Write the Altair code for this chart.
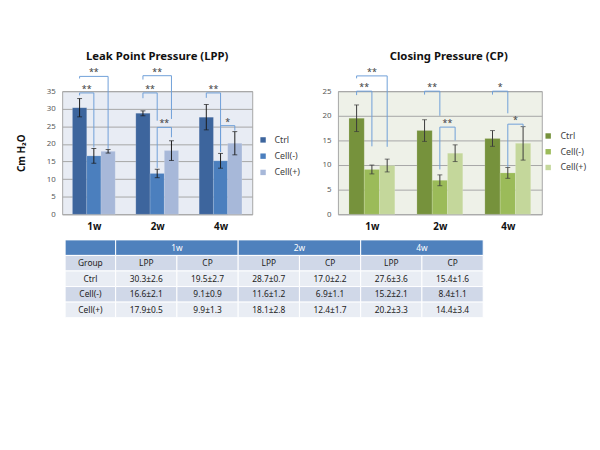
import json
import altair as alt
import pandas as pd

# ---------------- data ----------------
groups = ["1w", "2w", "4w"]
series = ["Ctrl", "Cell(-)", "Cell(+)"]

# Leak point pressure (cm H2O), mean and SD per week
lpp_ctrl_mean = [30.3, 28.7, 27.6]
lpp_ctrl_sd = [2.6, 0.7, 3.6]
lpp_neg_mean = [16.6, 11.6, 15.2]
lpp_neg_sd = [2.1, 1.2, 2.1]
lpp_pos_mean = [17.9, 18.1, 20.2]
lpp_pos_sd = [0.5, 2.8, 3.3]

# Closing pressure (cm H2O), mean and SD per week
cp_ctrl_mean = [19.5, 17.0, 15.4]
cp_ctrl_sd = [2.7, 2.2, 1.6]
cp_neg_mean = [9.1, 6.9, 8.4]
cp_neg_sd = [0.9, 1.1, 1.1]
cp_pos_mean = [9.9, 12.4, 14.4]
cp_pos_sd = [1.3, 1.7, 3.4]

# significance brackets: week index, series a, series b, bracket level,
# end of left leg, end of right leg, mark (values in cm H2O)
lpp_br_week = [0, 0, 1, 1, 1, 2, 2]
lpp_br_a = [0, 0, 0, 0, 1, 0, 1]
lpp_br_b = [1, 2, 1, 2, 2, 1, 2]
lpp_br_level = [34.5, 39.2, 34.5, 39.4, 24.7, 34.5, 25.2]
lpp_br_left = [33.8, 38.6, 33.0, 38.3, 13.2, 33.1, 17.7]
lpp_br_right = [19.0, 18.6, 26.6, 27.1, 21.9, 17.7, 23.8]
lpp_br_label = ["**", "**", "**", "**", "**", "**", "*"]

cp_br_week = [0, 0, 1, 1, 2, 2]
cp_br_a = [0, 0, 0, 1, 0, 1]
cp_br_b = [1, 2, 1, 2, 1, 2]
cp_br_level = [25.0, 28.1, 25.0, 17.7, 25.0, 18.3]
cp_br_left = [24.2, 27.6, 24.3, 9.1, 24.3, 9.6]
cp_br_right = [13.8, 13.7, 20.0, 15.0, 20.5, 17.8]
cp_br_label = ["**", "**", "**", "**", "*", "*"]

lpp_title = "Leak Point Pressure (LPP)"
cp_title = "Closing Pressure (CP)"
y_title = "Cm H\u2082O"
table_group_label = "Group"
measure_labels = ["LPP", "CP"]

# ---------------- styling / layout ----------------
FONT = "Noto Sans"
BAR_W = 0.225          # bar width as a fraction of a week band
PLOT_H = 125
LPP_W = 193
CP_W = 207
BRACKET_COLOR = "#6f9fd8"
LPP_COLORS = ["#3d659d", "#4b7fbe", "#a7b8d9"]
CP_COLORS = ["#76923c", "#9bbb59", "#c4d79b"]
LPP_BG = "#e8ecf4"
CP_BG = "#eef1e8"
GRID = "#a6a6a6"


def bar_frame(means, sds):
    rows = []
    for si, s in enumerate(series):
        for wi, w in enumerate(groups):
            c = wi + 0.5 + (si - 1) * BAR_W
            m, sd = means[si][wi], sds[si][wi]
            rows.append(dict(series=s, week=w, x0=c - BAR_W / 2, x1=c + BAR_W / 2,
                             xc=c, mean=m, lo=m - sd, hi=m + sd))
    return pd.DataFrame(rows)


def bracket_frames(week, a, b, level, left, right, labels):
    pts, labs = [], []
    for k in range(len(week)):
        xa = week[k] + 0.5 + (a[k] - 1) * BAR_W
        xb = week[k] + 0.5 + (b[k] - 1) * BAR_W
        path = [(xa, left[k]), (xa, level[k]), (xb, level[k]), (xb, right[k])]
        for o, (xx, yy) in enumerate(path):
            pts.append(dict(bid=k, o=o, bx=xx, by=yy))
        labs.append(dict(lx=(xa + xb) / 2, ly=level[k], lab=labels[k]))
    return pd.DataFrame(pts), pd.DataFrame(labs)


def panel(title, means, sds, br, colors, ymax, bg, width, ytitle, lx, ly,
          row_pad, lab_off, err_color, title_dx):
    df = bar_frame(means, sds)
    pts, labs = bracket_frames(*br)
    xscale = alt.Scale(domain=[0, len(groups)], nice=False, zero=False)
    yscale = alt.Scale(domain=[0, ymax], nice=False, zero=False)
    xaxis = alt.Axis(values=[i + 0.5 for i in range(len(groups))],
                     labelExpr=f"{json.dumps(groups)}[floor(datum.value)]",
                     title=None, grid=False, domain=False, ticks=False,
                     labelFontWeight="bold", labelFontSize=10, labelColor="#111111",
                     labelPadding=7, labelFont=FONT)
    yargs = dict(values=list(range(0, ymax + 1, 5)), grid=True, gridColor=GRID,
                 domain=False, ticks=False, labelFontSize=8, labelColor="#595959",
                 labelPadding=7, labelFont=FONT, labelOverlap=False)
    if ytitle:
        yaxis = alt.Axis(title=ytitle, titleFontSize=10, titleFontWeight="bold",
                         titleColor="#111111", titlePadding=20, titleFont=FONT, **yargs)
    else:
        yaxis = alt.Axis(title=None, **yargs)

    def X(field):
        return alt.X(field, scale=xscale, axis=xaxis)

    def Y(field):
        return alt.Y(field, scale=yscale, axis=yaxis)

    bars = alt.Chart(df).mark_bar(stroke="#ffffff", strokeWidth=0.3, strokeOpacity=0.5).encode(
        x=X("x0:Q"),
        x2="x1:Q",
        y=Y("mean:Q"),
        y2=alt.datum(0),
        color=alt.Color("series:N", scale=alt.Scale(domain=series, range=colors),
                        legend=alt.Legend(title=None, orient="none", legendX=lx, legendY=ly,
                                          symbolType="square", symbolSize=30,
                                          symbolStrokeWidth=0, labelFontSize=9,
                                          labelColor="#404040", labelFont=FONT,
                                          rowPadding=row_pad, labelOffset=lab_off,
                                          padding=0)),
    )
    err = alt.Chart(df).mark_rule(color=err_color, strokeWidth=1).encode(
        x=X("xc:Q"), y=Y("lo:Q"), y2="hi:Q")
    cap_hi = alt.Chart(df).mark_tick(orient="horizontal", size=5, thickness=1,
                                     color=err_color).encode(x=X("xc:Q"), y=Y("hi:Q"))
    cap_lo = alt.Chart(df).mark_tick(orient="horizontal", size=5, thickness=1,
                                     color=err_color).encode(x=X("xc:Q"), y=Y("lo:Q"))
    brackets = alt.Chart(pts).mark_line(color=BRACKET_COLOR, strokeWidth=1).encode(
        x=X("bx:Q"), y=Y("by:Q"), detail="bid:N", order="o:Q")
    marks = alt.Chart(labs).mark_text(baseline="bottom", fontSize=9, dy=1,
                                      color="#404040", font=FONT).encode(
        x=X("lx:Q"), y=Y("ly:Q"), text="lab:N")
    head = alt.Chart(pd.DataFrame({"t": [title]})).mark_text(
        fontSize=11.5, fontWeight="bold", baseline="middle", color="#111111",
        font=FONT).encode(text="t:N", x=alt.value(width / 2 + title_dx), y=alt.value(-34.5))
    return alt.layer(bars, err, cap_hi, cap_lo, brackets, marks, head).properties(
        width=width, height=PLOT_H,
        view=alt.ViewBackground(fill=bg, stroke=GRID, strokeWidth=1))


lpp = panel(lpp_title,
            [lpp_ctrl_mean, lpp_neg_mean, lpp_pos_mean],
            [lpp_ctrl_sd, lpp_neg_sd, lpp_pos_sd],
            (lpp_br_week, lpp_br_a, lpp_br_b, lpp_br_level, lpp_br_left, lpp_br_right, lpp_br_label),
            LPP_COLORS, 35, LPP_BG, LPP_W, y_title, 199.5, 45, 6.5, 7, "#1a1a1a", 0)
cp = panel(cp_title,
           [cp_ctrl_mean, cp_neg_mean, cp_pos_mean],
           [cp_ctrl_sd, cp_neg_sd, cp_pos_sd],
           (cp_br_week, cp_br_a, cp_br_b, cp_br_level, cp_br_left, cp_br_right, cp_br_label),
           CP_COLORS, 25, CP_BG, CP_W, None, 209, 41, 6, 8, "#3a3a3a", 9)

top = alt.hconcat(lpp, cp, spacing=21).resolve_scale(
    x="independent", y="independent", color="independent")

# ---------------- table ----------------
FIRST_COL = 0.825      # first column width in units of a data column
TABLE_OFF = 3
COL_PX = 62.2
n_cols = 2 * len(groups)
total_units = FIRST_COL + n_cols


def col_edges(c):
    if c == 0:
        return 0.0, FIRST_COL
    return FIRST_COL + c - 1, FIRST_COL + c


means_all = {"LPP": [lpp_ctrl_mean, lpp_neg_mean, lpp_pos_mean],
             "CP": [cp_ctrl_mean, cp_neg_mean, cp_pos_mean]}
sds_all = {"LPP": [lpp_ctrl_sd, lpp_neg_sd, lpp_pos_sd],
           "CP": [cp_ctrl_sd, cp_neg_sd, cp_pos_sd]}

cells = []
cells.append(dict(x0=0.0, x1=FIRST_COL, r=0, txt="", kind="head"))
for wi, w in enumerate(groups):
    a0, _ = col_edges(1 + 2 * wi)
    _, b1 = col_edges(2 + 2 * wi)
    cells.append(dict(x0=a0, x1=b1, r=0, txt=w, kind="head"))
x0, x1 = col_edges(0)
cells.append(dict(x0=x0, x1=x1, r=1, txt=table_group_label, kind="dark"))
for wi in range(len(groups)):
    for mi, m in enumerate(measure_labels):
        x0, x1 = col_edges(1 + 2 * wi + mi)
        cells.append(dict(x0=x0, x1=x1, r=1, txt=m, kind="dark"))
for si, s in enumerate(series):
    kind = "light" if si % 2 == 0 else "dark"
    x0, x1 = col_edges(0)
    cells.append(dict(x0=x0, x1=x1, r=2 + si, txt=s, kind=kind))
    for wi in range(len(groups)):
        for mi, m in enumerate(measure_labels):
            x0, x1 = col_edges(1 + 2 * wi + mi)
            v = means_all[m][si][wi]
            sd = sds_all[m][si][wi]
            cells.append(dict(x0=x0, x1=x1, r=2 + si, txt=f"{v:.1f}\u00b1{sd:.1f}", kind=kind))
tdf = pd.DataFrame(cells)
tdf["r1"] = tdf["r"] + 1
tdf["rc"] = tdf["r"] + 0.5
tdf["xc"] = (tdf["x0"] + tdf["x1"]) / 2

n_rows = 5
TABLE_H = 79
table_w = TABLE_OFF + total_units * COL_PX
tx = alt.Scale(domain=[0, total_units], range=[TABLE_OFF, table_w], nice=False, zero=False)
ty = alt.Scale(domain=[0, n_rows], reverse=True, nice=False, zero=False)

t_rect = alt.Chart(tdf).mark_rect(stroke="#ffffff", strokeWidth=1).encode(
    x=alt.X("x0:Q", scale=tx, axis=None), x2="x1:Q",
    y=alt.Y("r:Q", scale=ty, axis=None), y2="r1:Q",
    color=alt.Color("kind:N", scale=alt.Scale(domain=["head", "dark", "light"],
                                              range=["#4f81bd", "#d0d8e8", "#e9edf4"]),
                    legend=None))
t_text = alt.Chart(tdf).mark_text(fontSize=8.5, font=FONT, baseline="middle").encode(
    x=alt.X("xc:Q", scale=tx, axis=None), y=alt.Y("rc:Q", scale=ty, axis=None), text="txt:N",
    color=alt.Color("kind:N", scale=alt.Scale(domain=["head", "dark", "light"],
                                              range=["#ffffff", "#222222", "#222222"]),
                    legend=None))
table = alt.layer(t_rect, t_text).resolve_scale(color="independent").properties(
    width=table_w, height=TABLE_H,
    view=alt.ViewBackground(stroke="transparent"))

chart = alt.vconcat(top, table, spacing=7).properties(
    padding={"left": 8, "top": 41, "right": 5, "bottom": 5},
    background="#ffffff",
).configure(font=FONT)

chart.save("out.html", embed_options={"renderer": "svg", "actions": False})
